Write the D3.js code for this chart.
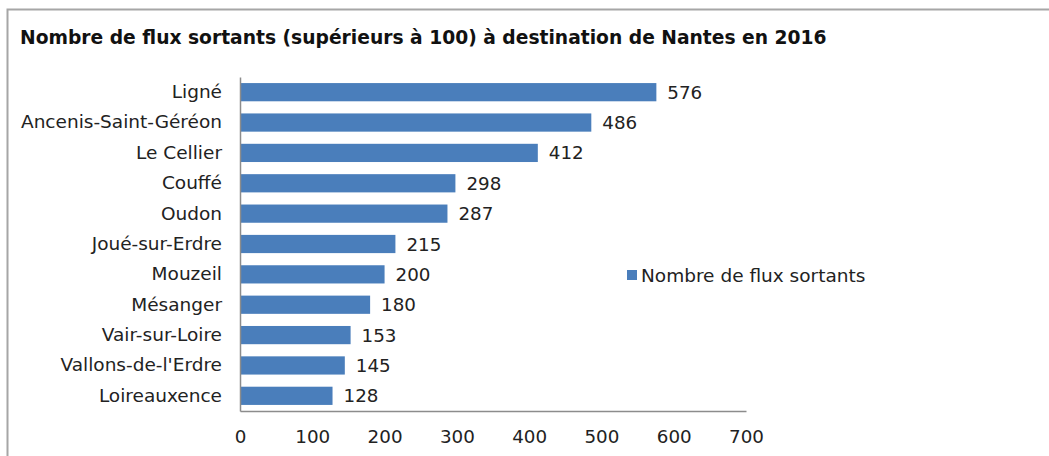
<!DOCTYPE html>
<style>
    body { margin: 0; background: #fff; }
    svg text { font-family: "DejaVu Sans", Verdana, sans-serif; fill: #222; }
    .axis .domain { stroke: #8c8c8c; stroke-width: 1.5; }
    .axis .tick line { display: none; }
</style>
<svg width="1049" height="456"></svg>
<script src="https://d3js.org/d3.v7.min.js"></script>
<script>

    var communes = ["Ligné", "Ancenis-Saint-Géréon", "Le Cellier", "Couffé", "Oudon", "Joué-sur-Erdre",
        "Mouzeil", "Mésanger", "Vair-sur-Loire", "Vallons-de-l'Erdre", "Loireauxence"];
    var flux = [576, 486, 412, 298, 287, 215, 200, 180, 153, 145, 128];
    var xTicks = [0, 100, 200, 300, 400, 500, 600, 700];
    var titre = "Nombre de flux sortants (supérieurs à 100) à destination de Nantes en 2016";
    var serie = "Nombre de flux sortants";

    var svg = d3.select("svg"),
        margin = {top: 77, left: 240},
        width = 506,
        height = 334;

    // cadre
    svg.append("rect")
        .attr("x", 7.5).attr("y", 9.5)
        .attr("width", 1060).attr("height", 470)
        .attr("fill", "none").attr("stroke", "#a6a6a6").attr("stroke-width", 2);

    svg.append("text")
        .attr("x", 20).attr("y", 44)
        .style("font-size", "18.7px")
        .style("font-weight", "bold")
        .style("fill", "#111")
        .text(titre);

    var g = svg.append("g").attr("transform", "translate(" + margin.left + "," + margin.top + ")");

    var x = d3.scaleLinear().domain([0, 700]).range([0, width]);
    var y = d3.scaleBand().domain(communes).range([0, height]).paddingInner(0.4).paddingOuter(0.2);

    g.selectAll("rect.bar")
        .data(communes)
        .enter().append("rect")
        .attr("class", "bar")
        .attr("x", 0)
        .attr("y", function(d) { return y(d); })
        .attr("height", y.bandwidth())
        .attr("width", function(d, i) { return x(flux[i]); })
        .attr("fill", "#4a7ebb");

    g.selectAll("text.val")
        .data(communes)
        .enter().append("text")
        .attr("class", "val")
        .attr("x", function(d, i) { return x(flux[i]) + 11; })
        .attr("y", function(d) { return y(d) + y.bandwidth() / 2; })
        .attr("dy", "0.36em")
        .style("font-size", "18.3px")
        .text(function(d, i) { return flux[i]; });

    g.append("g")
        .attr("class", "axis")
        .call(d3.axisLeft(y).tickSize(0).tickPadding(18))
        .selectAll("text")
        .style("font-size", "18.5px");

    g.append("g")
        .attr("class", "axis")
        .attr("transform", "translate(0," + height + ")")
        .call(d3.axisBottom(x).tickValues(xTicks).tickSize(0).tickPadding(19))
        .selectAll("text")
        .style("font-size", "18.3px");

    var legend = svg.append("g").attr("transform", "translate(627,270)");
    legend.append("rect").attr("width", 10).attr("height", 10).attr("fill", "#4a7ebb");
    legend.append("text")
        .attr("x", 14).attr("y", 5).attr("dy", "0.36em")
        .style("font-size", "18.5px")
        .text(serie);

</script>
